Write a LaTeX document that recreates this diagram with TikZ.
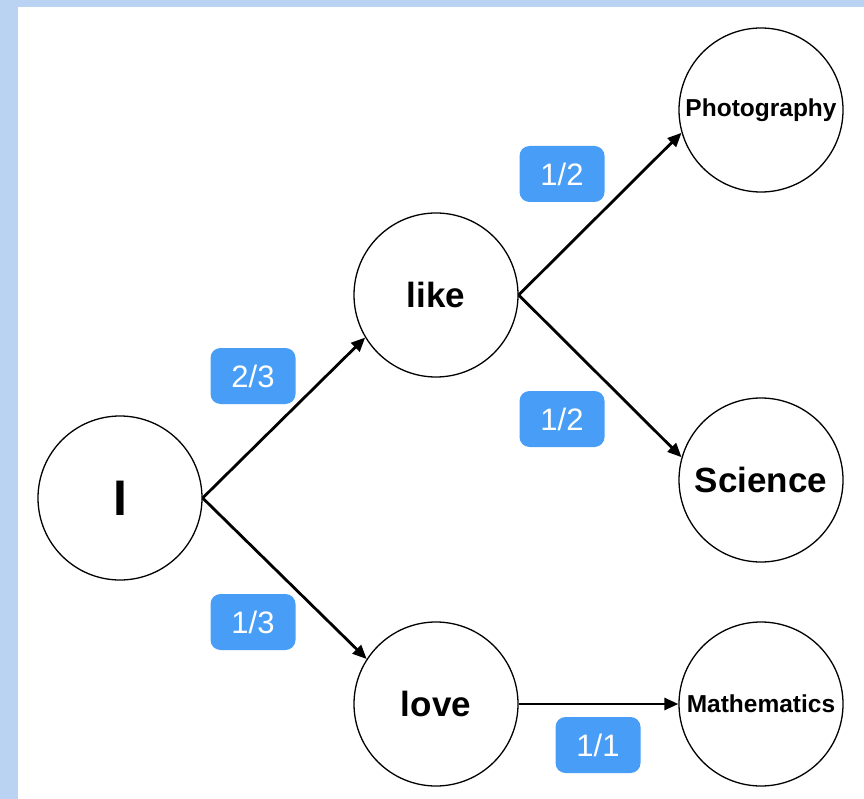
\documentclass[tikz,border=0pt]{standalone}
\usepackage{fontspec}
\setmainfont{Liberation Sans}
\usetikzlibrary{arrows.meta}

\definecolor{frameblue}{RGB}{186,211,243}
\definecolor{tagblue}{RGB}{72,158,246}

\tikzset{
  word/.style={circle, draw=black, line width=1.3pt, fill=white,
    minimum size=164pt, inner sep=0pt, font=\bfseries},
  prob/.style={fill=tagblue, rounded corners=10pt, text=white,
    minimum width=85pt, minimum height=56pt, inner sep=0pt,
    font=\fontsize{31}{31}\selectfont},
  link/.style={line width=2.8pt, -{Triangle[length=14pt,width=12pt]}},
}

\begin{document}
\begin{tikzpicture}[x=1pt, y=-1pt]
  \useasboundingbox (0,0) rectangle (864,799);
  % page frame
  \fill[frameblue] (0,0) rectangle (864,799);
  \fill[white] (18,7) rectangle (864,799);

  % words
  \node[word, font=\bfseries\fontsize{50}{50}\selectfont] (i) at (120,498) {I};
  \node[word, font=\bfseries\fontsize{35}{35}\selectfont] (like) at (436,295) {like};
  \node[word, font=\bfseries\fontsize{35}{35}\selectfont] (love) at (436,704) {love};
  \node[word, font=\bfseries\fontsize{24.5}{24.5}\selectfont] (photo) at (761,110) {Photography};
  \node[word, font=\bfseries\fontsize{35}{35}\selectfont] (science) at (761,480) {Science};
  \node[word, font=\bfseries\fontsize{24.5}{24.5}\selectfont] (math) at (761,704) {Mathematics};

  % transitions
  \draw[link] (i.east) -- (like.211);
  \draw[link] (i.east) -- (love.147);
  \draw[link] (like.east) -- (photo.196);
  \draw[link] (like.east) -- (science.164);
  \draw[link] (love.east) -- (math.west);

  % probabilities
  \node[prob] (p1) at (253,376) {2/3};
  \node[prob] (p2) at (253,622) {1/3};
  \node[prob] (p3) at (562,174) {1/2};
  \node[prob] (p4) at (562,419) {1/2};
  \node[prob] (p5) at (598,745) {1/1};
\end{tikzpicture}
\end{document}
